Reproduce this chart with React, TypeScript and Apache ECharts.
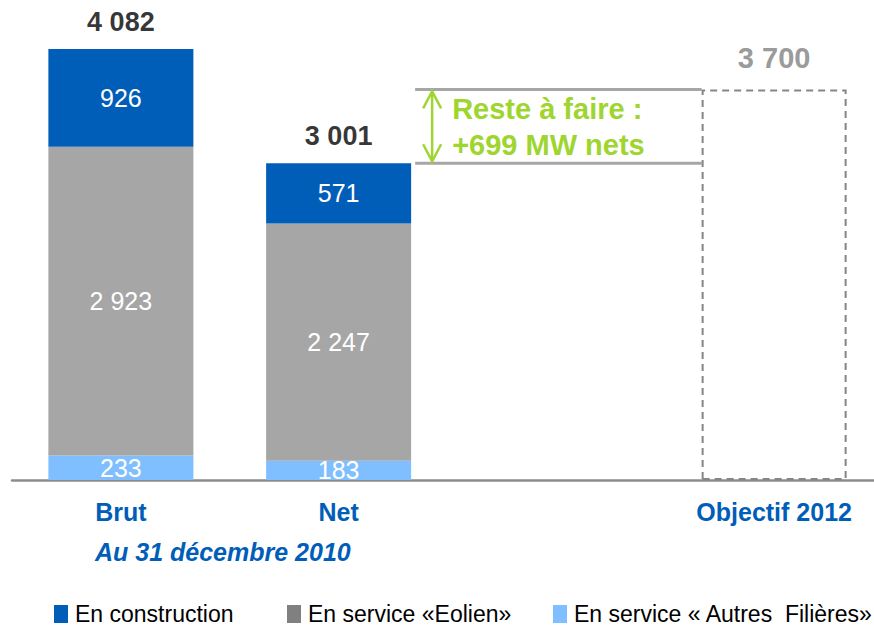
import React, { useEffect, useRef } from "react";
import * as echarts from "echarts";

const categories = ["Brut", "Net", "", "Objectif 2012"];
const autresValues: (number | string)[] = [233, 183, "-", "-"];
const eolienValues: (number | string)[] = [2923, 2247, "-", "-"];
const constructionValues: (number | string)[] = [926, 571, "-", "-"];
const totalValues: (number | string)[] = [4082, 3001, "-", 3700];
const objectifValues: (number | string)[] = ["-", "-", "-", 3700];
const resteLabel = ["Reste à faire :", "+699 MW nets"];
const subtitle = "Au 31 décembre 2010";
const seriesNames = ["En construction", "En service «Eolien»", "En service « Autres  Filières»"];

const FONT = "'Liberation Sans', Arial, Helvetica, sans-serif";
const BLUE = "#005EB8";
const GRAY = "#A6A6A6";
const LIGHT = "#80BFFF";
const GREEN = "#9ED52F";
const BAR_W = 145;

const fmt = (v: number) => String(v).replace(/\B(?=(\d{3})+(?!\d))/g, " ");

export default function App() {
  const ref = useRef<HTMLDivElement>(null);
  useEffect(() => {
    if (!ref.current) return;
    const chart = echarts.init(ref.current, undefined, { renderer: "svg" });
    const innerLabel = {
      show: true,
      position: "inside" as const,
      color: "#fff",
      fontSize: 25,
      fontFamily: FONT,
      formatter: (p: any) => fmt(p.value),
    };
    const legendBase = {
      top: 602,
      icon: "rect",
      itemWidth: 14,
      itemHeight: 18,
      itemGap: 0,
      padding: 0,
      textStyle: { fontSize: 23, lineHeight: 24, color: "#000", fontFamily: FONT, padding: [0, 0, 0, 2] },
      selectedMode: false as const,
    };
    chart.setOption({
      animation: false,
      textStyle: { fontFamily: FONT },
      grid: { left: 12, width: 871, top: 5, bottom: 149, containLabel: false },
      xAxis: {
        type: "category",
        data: categories,
        boundaryGap: true,
        axisTick: { show: false },
        axisLine: { lineStyle: { color: "#8C8C8C", width: 2.5 } },
        axisLabel: {
          interval: 0,
          margin: 19,
          color: BLUE,
          fontWeight: "bold",
          fontSize: 25,
          fontFamily: FONT,
        },
      },
      yAxis: { type: "value", min: 0, max: 4500, show: false, splitLine: { show: false } },
      legend: [
        { ...legendBase, left: 54, data: [{ name: seriesNames[0], itemStyle: { color: BLUE } }] },
        { ...legendBase, left: 287, data: [{ name: seriesNames[1], itemStyle: { color: "#808080" } }] },
        { ...legendBase, left: 553, data: [{ name: seriesNames[2], itemStyle: { color: LIGHT } }] },
      ],
      series: [
        {
          name: seriesNames[2],
          type: "bar",
          stack: "total",
          barWidth: BAR_W,
          data: autresValues,
          itemStyle: { color: LIGHT },
          label: innerLabel,
        },
        {
          name: seriesNames[1],
          type: "bar",
          stack: "total",
          barWidth: BAR_W,
          data: eolienValues,
          itemStyle: { color: GRAY },
          label: innerLabel,
        },
        {
          name: seriesNames[0],
          type: "bar",
          stack: "total",
          barWidth: BAR_W,
          data: constructionValues,
          itemStyle: { color: BLUE },
          label: innerLabel,
        },
        {
          name: "Objectif",
          type: "bar",
          barWidth: BAR_W,
          barGap: "-100%",
          data: objectifValues,
          itemStyle: {
            color: "rgba(0,0,0,0)",
            borderColor: "#858585",
            borderWidth: 2,
            borderType: [7, 5],
          },
        },
        {
          name: "Total",
          type: "scatter",
          symbolSize: 1,
          itemStyle: { color: "rgba(0,0,0,0)" },
          data: totalValues.map((v, i) =>
            i === 3
              ? { value: v, label: { color: "#808080", fontSize: 29, distance: 16 } }
              : { value: v }
          ),
          label: {
            show: true,
            position: "top",
            distance: 13,
            color: "#000",
            fontWeight: "bold",
            fontSize: 27,
            fontFamily: FONT,
            formatter: (p: any) => fmt(p.value),
          },
        },
      ],
    });

    const [netX, netY] = chart.convertToPixel({ xAxisIndex: 0, yAxisIndex: 0 }, [1, totalValues[1] as number]);
    const [objX, objY] = chart.convertToPixel({ xAxisIndex: 0, yAxisIndex: 0 }, [3, objectifValues[3] as number]);
    const x1 = netX + BAR_W / 2 + 4;
    const x2 = objX - BAR_W / 2;
    const ax = netX + BAR_W / 2 + 21;
    const mid = (netY + objY) / 2;
    chart.setOption({
      graphic: [
        { type: "line", shape: { x1, y1: objY, x2, y2: objY }, style: { stroke: GRAY, lineWidth: 3 } },
        { type: "line", shape: { x1, y1: netY, x2, y2: netY }, style: { stroke: GRAY, lineWidth: 3 } },
        { type: "line", shape: { x1: ax, y1: objY + 2, x2: ax, y2: netY - 2 }, style: { stroke: GREEN, lineWidth: 2.5 } },
        {
          type: "polyline",
          shape: { points: [[ax - 9, objY + 19], [ax, objY + 2], [ax + 9, objY + 19]] },
          style: { stroke: GREEN, lineWidth: 2.5, fill: "none" },
        },
        {
          type: "polyline",
          shape: { points: [[ax - 9, netY - 19], [ax, netY - 2], [ax + 9, netY - 19]] },
          style: { stroke: GREEN, lineWidth: 2.5, fill: "none" },
        },
        {
          type: "text",
          x: ax + 20,
          y: mid - 17,
          style: { text: resteLabel[0], fill: GREEN, font: `bold 29px ${FONT}`, verticalAlign: "middle" },
        },
        {
          type: "text",
          x: ax + 20,
          y: mid + 19,
          style: { text: resteLabel[1], fill: GREEN, font: `bold 29px ${FONT}`, verticalAlign: "middle" },
        },
        {
          type: "text",
          x: 95,
          y: 552,
          style: { text: subtitle, fill: BLUE, font: `italic bold 25px ${FONT}`, verticalAlign: "middle" },
        },
      ],
    });
    return () => chart.dispose();
  }, []);
  return (
    <div style={{ position: "fixed", left: 0, top: 0, width: 874, height: 629, overflow: "hidden", background: "#fff" }}>
      <div ref={ref} style={{ width: 890, height: 629 }} />
    </div>
  );
}
